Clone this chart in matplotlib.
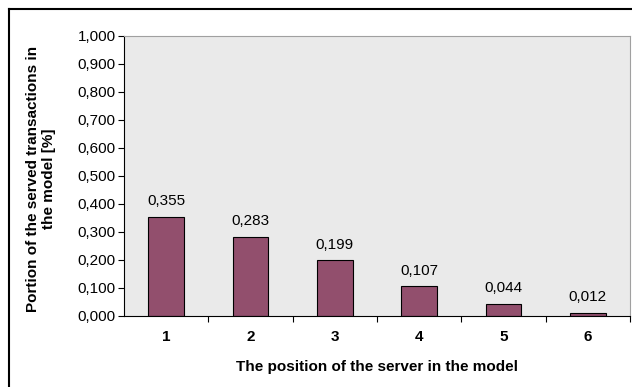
import matplotlib.pyplot as plt
from matplotlib.lines import Line2D

positions = [1, 2, 3, 4, 5, 6]
portions = [0.355, 0.283, 0.199, 0.107, 0.044, 0.012]
yticks = [0.0, 0.1, 0.2, 0.3, 0.4, 0.5, 0.6, 0.7, 0.8, 0.9, 1.0]

plt.rcParams['font.family'] = ['Liberation Sans', 'DejaVu Sans']
fs = 11

fig = plt.figure(figsize=(6.32, 3.87), dpi=100)
ax = fig.add_axes([0.196, 0.1835, 0.801, 0.7235])

ax.set_facecolor('#eaeaea')
ax.bar(positions, portions, width=0.42, color='#924f6d', edgecolor='black', linewidth=0.8)

for x, v in zip(positions, portions):
    ax.annotate(f"{v:.3f}".replace('.', ','), (x, v), xytext=(0, 6), textcoords='offset points',
                ha='center', va='bottom', fontsize=fs)

ax.set_xlim(0.5, 6.5)
ax.set_ylim(0, 1.0)
ax.set_yticks(yticks)
ax.set_yticklabels([f"{t:.3f}".replace('.', ',') for t in yticks], fontsize=fs)
ax.set_xticks(positions)
ax.set_xticklabels([str(p) for p in positions], fontsize=fs, fontweight='bold')
ax.tick_params(axis='x', length=0, pad=10)
ax.set_xticks([1.5, 2.5, 3.5, 4.5, 5.5, 6.5], minor=True)
ax.tick_params(axis='x', which='minor', length=4, width=0.8)
ax.tick_params(axis='y', length=4, width=0.8, pad=2)

for s in ['top', 'right']:
    ax.spines[s].set_color('#a0a0a0')
for s in ['left', 'bottom']:
    ax.spines[s].set_color('black')
    ax.spines[s].set_linewidth(0.8)

ax.set_xlabel('The position of the server in the model', fontsize=fs, fontweight='bold')
ax.xaxis.set_label_coords(0.5, -0.157)
ax.set_ylabel('Portion of the served transactions in\nthe model [%]', fontsize=fs, fontweight='bold')
ax.yaxis.set_label_coords(-0.134, 0.489)

fig.add_artist(Line2D([9/632, 9/632], [0, 1 - 9/387], color='black', linewidth=1.5, transform=fig.transFigure))
fig.add_artist(Line2D([9/632, 1], [1 - 9/387, 1 - 9/387], color='black', linewidth=1.5, transform=fig.transFigure))

fig.savefig('out.png', dpi=100)
